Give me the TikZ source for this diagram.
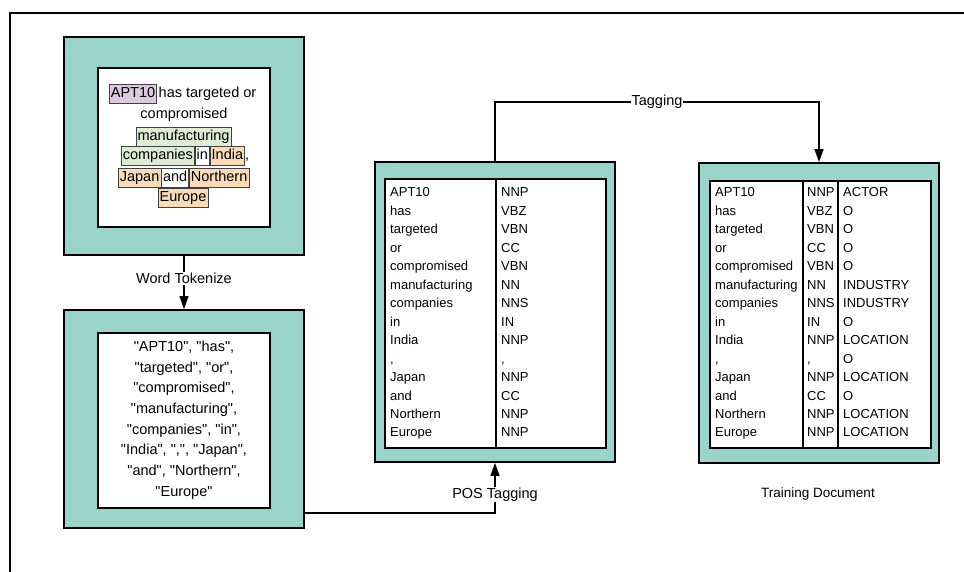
\documentclass[tikz,border=0pt]{standalone}
\usepackage{fontspec}
\setmainfont{Liberation Sans}[Ligatures=TeXOff]
\usetikzlibrary{positioning,arrows.meta}

\definecolor{tealbox}{HTML}{9BD4C8}
\definecolor{actorcol}{HTML}{DCC9DF}
\definecolor{industrycol}{HTML}{DDECD3}
\definecolor{locationcol}{HTML}{F9DBBA}
\newcommand{\tokcomma}{,}

\tikzset{
    outerbox/.style={draw, line width=1.8pt, fill=tealbox, inner sep=0pt, minimum width=240pt},
    innerbox/.style={draw, line width=1.8pt, fill=white, inner sep=0pt},
    word/.style={inner xsep=1.5pt, inner ysep=1.5pt, text height=12pt, text depth=4pt, font=\fontsize{14.5}{17}\selectfont},
    entity/.style={word, draw=black!75, line width=0.7pt},
    lbl/.style={fill=white, inner sep=1pt, font=\fontsize{14.5}{17}\selectfont},
    cell/.style={anchor=base west, inner sep=0pt, font=\fontsize{13}{15}\selectfont},
    flow/.style={line width=1.4pt, -{Triangle[width=9pt,length=13pt]}},
}

\begin{document}
\begin{tikzpicture}[x=1pt, y=-1pt]
    \useasboundingbox (0,0) rectangle (964,572);
    \draw[line width=1.8pt] (10,572) -- (10,13) -- (964,13);

    % the four boxes
    \node[outerbox, minimum height=218pt] (sent) at (184,146) {};
    \node[innerbox, minimum width=172pt, minimum height=159pt] (senti) at (184,147.5) {};
    \node[outerbox, minimum height=218pt] (tok) at (184,419) {};
    \node[innerbox, minimum width=172pt, minimum height=175pt] (toki) at (184,420.5) {};
    \node[outerbox, minimum height=300pt] (pos) at (495,312) {};
    \node[innerbox, minimum width=221pt, minimum height=269pt] (posi) at (495.5,313.5) {};
    \node[outerbox, minimum height=300pt] (ner) at (819,313) {};
    \node[innerbox, minimum width=221pt, minimum height=267pt] (neri) at (820.5,314.5) {};

    % sentence with marked entities
    \node[entity, fill=actorcol, anchor=west] (apt) at (109,94) {APT10};
    \node[word, right=0pt of apt] (l1) {has targeted or};
    \node[word] (l2) at (184,115) {compromised};
    \node[entity, fill=industrycol] (manu) at (183.5,136.5) {manufacturing};
    \node[entity, fill=industrycol, anchor=west] (comp) at (121,156) {companies};
    \node[entity, fill=white, right=0pt of comp] (in) {in};
    \node[entity, fill=locationcol, right=0pt of in] (india) {India};
    \node[word, inner xsep=0pt, right=0pt of india] (cm) {\tokcomma};
    \node[entity, fill=locationcol, anchor=west] (japan) at (118,177.5) {Japan};
    \node[entity, fill=white, right=0pt of japan] (and) {and};
    \node[entity, fill=locationcol, right=0pt of and] (north) {Northern};
    \node[entity, fill=locationcol] (europe) at (183,198) {Europe};

    % token list
    \node[align=center, font=\fontsize{14.5}{20.7}\selectfont] (toklist) at (184,420)
        {"APT10", "has",\\ "targeted", "or",\\ "compromised",\\ "manufacturing",\\
         "companies", "in",\\ "India", ",", "Japan",\\ "and", "Northern",\\ "Europe"};

    % tables
    \draw[line width=1.5pt] (496,179) -- (496,448);
    \draw[line width=1.5pt] (803,181) -- (803,448);
    \draw[line width=1.5pt] (838,181) -- (838,448);
    \foreach \w/\t/\e [count=\i from 0] in {APT10/NNP/ACTOR, has/VBZ/O, targeted/VBN/O,
        or/CC/O, compromised/VBN/O, manufacturing/NN/INDUSTRY, companies/NNS/INDUSTRY,
        in/IN/O, India/NNP/LOCATION, \tokcomma/\tokcomma/O, Japan/NNP/LOCATION,
        and/CC/O, Northern/NNP/LOCATION, Europe/NNP/LOCATION} {
        \node[cell] (pw\i) at (390,197+18.46*\i) {\w};
        \node[cell] (pt\i) at (501,197+18.46*\i) {\t};
        \node[cell] (nw\i) at (715,197+18.46*\i) {\w};
        \node[cell] (nt\i) at (807,197+18.46*\i) {\t};
        \node[cell] (ne\i) at (843,197+18.46*\i) {\e};
    }

    % connectors
    \coordinate (top) at (657,102);
    \coordinate (bend) at (495,513);
    \draw[flow] (sent) -- node[lbl, pos=0.42] {Word Tokenize} (tok);
    \draw[flow] (tok.east |- bend) -- (bend) -- node[lbl, pos=0.37] {POS Tagging} (pos.south);
    \draw[flow] (pos.north) -- (pos.north |- top) -- node[lbl] {Tagging} (ner.north |- top) -- (ner.north);
    \node[font=\fontsize{13.5}{16}\selectfont] (train) at (818,494) {Training Document};
\end{tikzpicture}
\end{document}
